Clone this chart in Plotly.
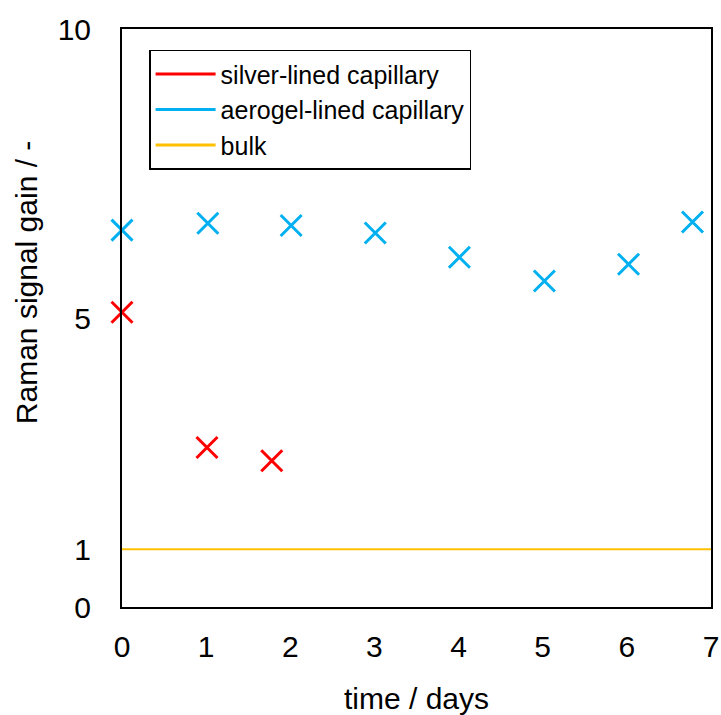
import plotly.graph_objects as go

# Data
silver_x = [0, 1.01, 1.78]
silver_y = [5.10, 2.76, 2.53]

aerogel_x = [0, 1.02, 2.01, 3.01, 4.01, 5.02, 6.02, 6.78]
aerogel_y = [6.52, 6.64, 6.60, 6.47, 6.05, 5.64, 5.93, 6.66]

bulk_x = [0, 7]
bulk_y = [1, 1]

x_ticks = [0, 1, 2, 3, 4, 5, 6, 7]
y_ticks = [0, 1, 5, 10]

RED = "#FF0000"
BLUE = "#00B0F0"
GOLD = "#FFC000"
FONT = "Liberation Sans, Arial, sans-serif"

fig = go.Figure()

# bulk reference line
fig.add_trace(go.Scatter(x=bulk_x, y=bulk_y, mode="lines",
                         line=dict(color=GOLD, width=2), showlegend=False,
                         hoverinfo="skip"))

fig.add_trace(go.Scatter(x=silver_x, y=silver_y, mode="markers",
                         marker=dict(symbol="x-thin", size=21,
                                     line=dict(color=RED, width=3)),
                         showlegend=False, cliponaxis=False))
fig.add_trace(go.Scatter(x=aerogel_x, y=aerogel_y, mode="markers",
                         marker=dict(symbol="x-thin", size=21,
                                     line=dict(color=BLUE, width=3)),
                         showlegend=False, cliponaxis=False))

# legend entries (line samples as in the reference)
for name, col in [("silver-lined capillary", RED),
                  ("aerogel-lined capillary", BLUE),
                  ("bulk", GOLD)]:
    fig.add_trace(go.Scatter(x=[None], y=[None], mode="lines", name=name,
                             line=dict(color=col, width=3)))

fig.update_layout(
    width=721, height=715,
    margin=dict(l=122, r=10, t=29, b=108, autoexpand=False),
    paper_bgcolor="white", plot_bgcolor="white",
    font=dict(family=FONT, size=30, color="black"),
    legend=dict(x=0.046, y=0.964, xanchor="left", yanchor="top",
                bordercolor="black", borderwidth=1.5, bgcolor="white",
                font=dict(size=25), tracegroupgap=0, traceorder="normal",
                itemwidth=60),
    annotations=[dict(text="Raman signal gain / -", textangle=-90,
                      xref="paper", yref="paper", x=-0.163, y=0.562,
                      xanchor="center", yanchor="middle", showarrow=False,
                      font=dict(size=30))],
)

fig.update_xaxes(range=[0, 7], tickvals=x_ticks, showgrid=False, zeroline=False,
                 showline=True, linecolor="black", linewidth=2, mirror=True,
                 ticks="", ticklabelstandoff=12,
                 tickfont=dict(size=30),
                 title=dict(text="time / days", font=dict(size=30), standoff=28))
fig.update_yaxes(range=[0, 10], tickvals=y_ticks, showgrid=False, zeroline=False,
                 showline=True, linecolor="black", linewidth=2, mirror=True,
                 ticks="", ticklabelstandoff=23,
                 tickfont=dict(size=30))

fig.write_html("out.html",
               config={"displayModeBar": False},
               post_script="document.body.style.margin='0px';"
                           "document.body.style.overflow='hidden';")
